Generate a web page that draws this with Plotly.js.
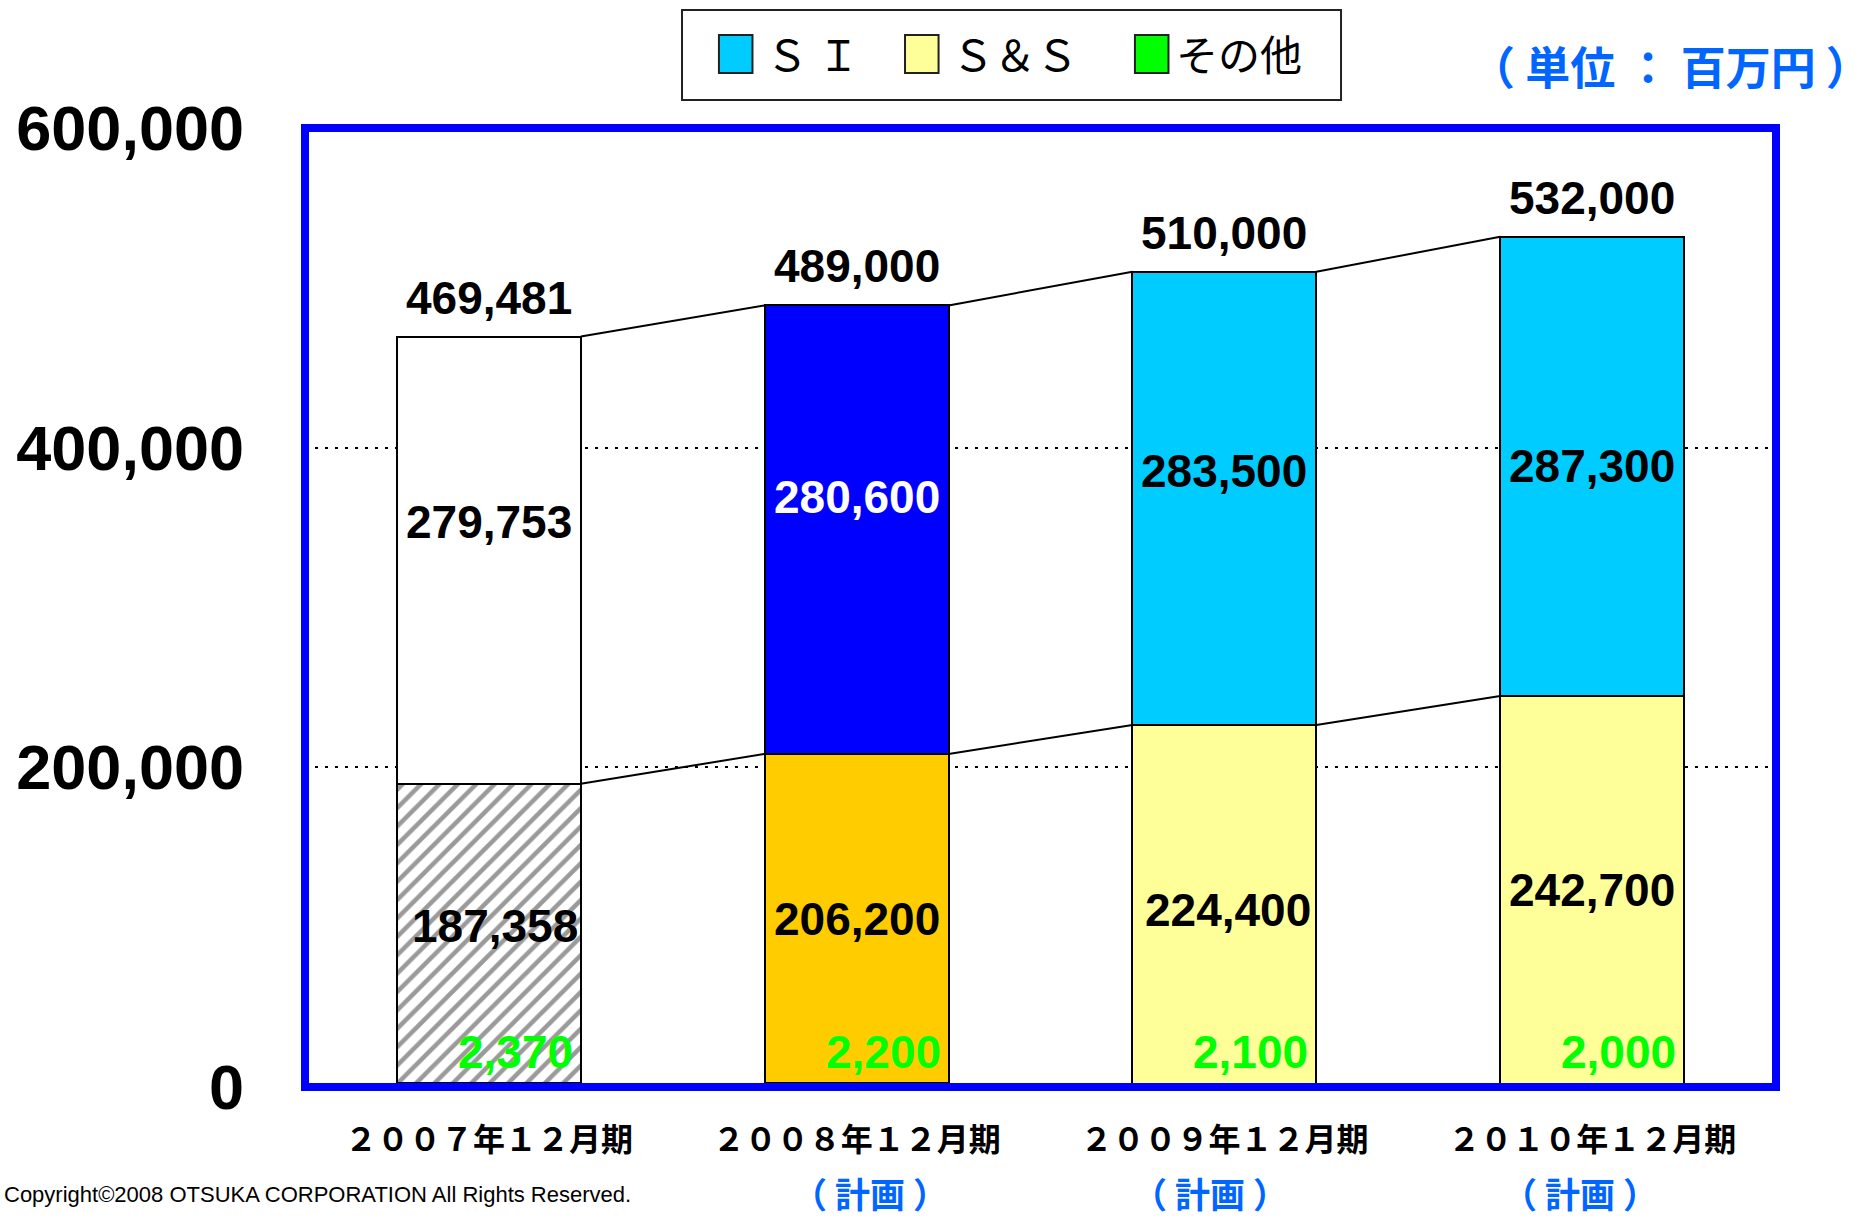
<!DOCTYPE html>
<html>
<head>
<meta charset="utf-8">
<script src="https://cdn.plot.ly/plotly-3.0.1.min.js"></script>
<style>html,body{margin:0;padding:0;background:#fff;}#chart{width:1872px;height:1219px;}</style>
</head>
<body>
<div id="chart"></div>
<script>
// ---- data ----
const tickLabels = ['２００７年１２月期', '２００８年１２月期', '２００９年１２月期', '２０１０年１２月期'];
const planLabels = ['', '（ 計画 ）', '（ 計画 ）', '（ 計画 ）'];
const siValues = [279753, 280600, 283500, 287300];
const ssValues = [187358, 206200, 224400, 242700];
const otherValues = [2370, 2200, 2100, 2000];
const yTicks = [0, 200000, 400000, 600000];
const unitLabel = '（ 単位 ： 百万円 ）';
const legendNames = ['Ｓ Ｉ', 'Ｓ＆Ｓ', 'その他'];
const copyrightText = 'Copyright©2008 OTSUKA CORPORATION All Rights Reserved.';

// ---- styles ----
const siColors = ['#FFFFFF', '#0000FF', '#00CCFF', '#00CCFF'];
const ssColors = ['#9A9A9A', '#FFCC00', '#FFFF99', '#FFFF99'];
const ssPattern = ['/', '', '', ''];
const otherColors = ['#000000', '#FF6600', '#FF6600', '#FF6600'];
const siLabelColors = ['#000000', '#FFFFFF', '#000000', '#000000'];
const siLabelShift = [38, 33, 27, 0];
const ssLabelShift = [7, 0, -6, 0];
const ssLabelXShift = [6, 0, 4, 0];
const planShift = [0, 13, -14, -12];
const legendColors = ['#00CCFF', '#FFFF99', '#00FF00'];
const legendTextGap = [0.008, 0.008, 0.004];
const NUM_FONT = 'Arial, "Liberation Sans", sans-serif';
const JP_FONT = '"Noto Sans CJK JP", "Noto Sans", sans-serif';
const BLUE_TEXT = '#0066FF';
const barWidth = 0.5;

const xs = tickLabels.map((_, i) => i);
const fmt = v => v.toLocaleString('en-US');
const totals = xs.map(i => siValues[i] + ssValues[i] + otherValues[i]);
const lower = xs.map(i => ssValues[i] + otherValues[i]);

function connector(vals) {
  const x = [], y = [];
  for (let i = 0; i < vals.length - 1; i++) {
    x.push(i + barWidth / 2, i + 1 - barWidth / 2, null);
    y.push(vals[i], vals[i + 1], null);
  }
  return {x, y, type: 'scatter', mode: 'lines', line: {color: '#000', width: 2}, hoverinfo: 'skip', showlegend: false};
}

const traces = [
  {type: 'bar', x: xs, y: otherValues, width: barWidth, name: legendNames[2],
   marker: {color: otherColors, line: {color: otherColors, width: 1}}},
  {type: 'bar', x: xs, y: ssValues, width: barWidth, name: legendNames[1],
   marker: {color: ssColors, line: {color: '#000', width: 2},
            pattern: {shape: ssPattern, bgcolor: '#FFFFFF', size: 13, solidity: 0.35}}},
  {type: 'bar', x: xs, y: siValues, width: barWidth, name: legendNames[0],
   marker: {color: siColors, line: {color: '#000', width: 2}}},
  connector(totals),
  connector(lower)
];

const annotations = [];
const bigFont = (color) => ({family: NUM_FONT, size: 46, color: color, weight: 'bold'});
xs.forEach(i => {
  annotations.push({x: i, y: totals[i], xref: 'x', yref: 'y', text: fmt(totals[i]), showarrow: false,
    yanchor: 'bottom', yshift: 11, font: bigFont('#000')});
  annotations.push({x: i, y: lower[i] + siValues[i] / 2, xref: 'x', yref: 'y', text: fmt(siValues[i]), showarrow: false,
    yanchor: 'middle', yshift: siLabelShift[i], font: bigFont(siLabelColors[i])});
  annotations.push({x: i, y: otherValues[i] + ssValues[i] / 2, xref: 'x', yref: 'y', text: fmt(ssValues[i]), showarrow: false,
    yanchor: 'middle', yshift: ssLabelShift[i], xshift: ssLabelXShift[i], font: bigFont('#000')});
  annotations.push({x: i + barWidth / 2, y: 0, xref: 'x', yref: 'y', text: fmt(otherValues[i]), showarrow: false,
    xanchor: 'right', yanchor: 'bottom', xshift: -6, yshift: 7, font: bigFont('#00FF00')});
  if (planLabels[i]) {
    annotations.push({x: i, y: -0.1095, xref: 'x', yref: 'paper', text: planLabels[i], showarrow: false,
      xshift: planShift[i], yanchor: 'middle', font: {family: JP_FONT, size: 35, color: BLUE_TEXT, weight: 'bold'}});
  }
});
annotations.push({x: 0.9286, y: 1.0655, xref: 'paper', yref: 'paper', text: unitLabel, showarrow: false,
  xanchor: 'center', yanchor: 'middle', font: {family: JP_FONT, size: 45, color: BLUE_TEXT, weight: 'bold'}});
annotations.push({x: -0.2060, y: -0.1126, xref: 'paper', yref: 'paper', text: copyrightText, showarrow: false,
  xanchor: 'left', yanchor: 'middle', font: {family: NUM_FONT, size: 22, color: '#000'}});

// custom legend
const shapes = [
  {type: 'rect', xref: 'paper', yref: 'paper', x0: 0, x1: 1, y0: 0, y1: 1, layer: 'above',
   line: {color: '#0000FF', width: 8}, fillcolor: 'rgba(0,0,0,0)'},
  {type: 'rect', xref: 'paper', yref: 'paper', x0: 0.2563, x1: 0.7043, y0: 1.0292, y1: 1.1231,
   line: {color: '#222', width: 2}, fillcolor: '#FFFFFF'}
];
const swatchX = [0.2814, 0.4079, 0.5642];
const swatchW = 0.0228;
swatchX.forEach((sx, k) => {
  shapes.push({type: 'rect', xref: 'paper', yref: 'paper', x0: sx, x1: sx + swatchW, y0: 1.0574, y1: 1.097,
    line: {color: '#222', width: 2}, fillcolor: legendColors[k]});
  annotations.push({x: sx + swatchW + legendTextGap[k], y: 1.0785, xref: 'paper', yref: 'paper', text: legendNames[k],
    showarrow: false, xanchor: 'left', yanchor: 'middle', font: {family: JP_FONT, size: 42, color: '#000'}});
});

const layout = {
  width: 1872, height: 1219,
  margin: {l: 305, r: 96, t: 128, b: 132},
  paper_bgcolor: '#FFFFFF', plot_bgcolor: '#FFFFFF',
  barmode: 'stack', showlegend: false,
  xaxis: {range: [-0.5, 3.5], tickvals: xs, ticktext: tickLabels, showgrid: false, zeroline: false,
          showline: false, ticks: '', ticklabelstandoff: 31,
          tickfont: {family: JP_FONT, size: 32, color: '#000', weight: 'bold'}},
  yaxis: {range: [0, 600000], tickvals: yTicks, ticktext: yTicks.map(fmt), showgrid: true,
          gridcolor: '#000', gridwidth: 2, griddash: '3px,7px', zeroline: false, showline: false,
          ticks: '', ticklabelstandoff: 60,
          tickfont: {family: NUM_FONT, size: 63, color: '#000', weight: 'bold'}},
  shapes: shapes,
  annotations: annotations
};

Plotly.newPlot('chart', traces, layout, {displayModeBar: false, staticPlot: true});
</script>
</body>
</html>
